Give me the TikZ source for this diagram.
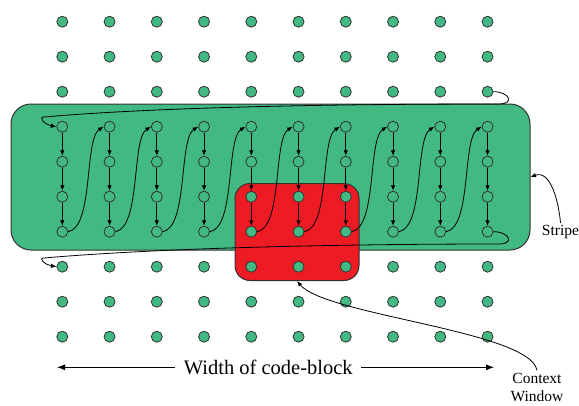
\documentclass[tikz,border=0pt]{standalone}
\usepackage{fontspec}
\setmainfont{Liberation Serif}
\usetikzlibrary{arrows.meta}

\definecolor{stripegreen}{RGB}{66,185,131}
\definecolor{windowred}{RGB}{237,28,36}
\definecolor{edgegray}{RGB}{50,50,50}

\begin{document}
\begin{tikzpicture}[
      x=1pt, y=1pt,
      cell/.style={
        circle, draw=edgegray, fill=stripegreen, line width=0.8pt,
        minimum size=11pt, inner sep=0pt
      },
      region/.style={draw=edgegray, line width=1pt, inner sep=0pt},
      sidenote/.style={font=\fontsize{15.5}{18}\selectfont, align=center, inner sep=2pt},
      wide/.style={-{Latex[length=8pt,width=6pt]}},
      line width=0.8pt, >={Latex[length=5.5pt,width=4.5pt]}
      ]

      \useasboundingbox (0,0) rectangle (579,-405);

      % stripe and the context window on top of it
      \node[region, fill=stripegreen, rounded corners=20pt,
            minimum width=519pt, minimum height=146pt] (stripe) at (270.5,-177) {};
      \node[region, fill=windowred, rounded corners=15pt,
            minimum width=124pt, minimum height=97pt] (window) at (297,-232) {};

      % token grid
      \foreach \r in {1,...,10}
        \foreach \c in {1,...,10}
          \node[cell] (p\r-\c) at ({62.3+47.25*(\c-1)}, {-21.7-35*(\r-1)}) {};

  % Scan order: down each column, then over to the next one
  \foreach \c in {1,...,10} {
    \draw[->] (p4-\c) -- (p5-\c);
    \draw[->] (p5-\c) -- (p6-\c);
    \draw[->] (p6-\c) -- (p7-\c);
  }
  \foreach \c [evaluate=\c as \n using int(\c+1)] in {1,...,9}
    \draw[->] (p7-\c.east) .. controls +(10:26pt) and +(212:23pt) .. (p4-\n.west);

  % Coming in from the row above, leaving to the row below
  \coordinate (inR) at (499,-104);
  \coordinate (inL) at (44,-117);
  \coordinate (outR) at (499,-244);
  \coordinate (outL) at (44,-258);
  \draw[->] (p3-10.east) .. controls +(0:16pt) and +(0:16pt) .. (inR)
    .. controls +(180:150pt) and +(5:120pt) .. (inL)
    .. controls +(180:6pt) and +(170:12pt) .. (p4-1.west);
  \draw[->] (p7-10.east) .. controls +(0:16pt) and +(0:16pt) .. (outR)
    .. controls +(180:150pt) and +(5:120pt) .. (outL)
    .. controls +(180:6pt) and +(170:12pt) .. (p8-1.west);

  % labels
  \node[sidenote] (stripetag) at (560.5,-232) {Stripe};
  \draw[->] (stripetag.north) to[out=95,in=20] (stripe.east);
  \node[sidenote] (ctxtag) at (537,-387) {Context\\Window};
  \draw[->] (ctxtag.north) .. controls +(100:40pt) and +(-50:45pt) .. (window.south);

  \node[font=\fontsize{20.5}{24}\selectfont, inner xsep=8pt] (wlabel) at (268.3,-367.3) {Width of code-block};
  \coordinate (wL) at (57,-367.3);
  \coordinate (wR) at (494,-367.3);
  \draw[wide] (wlabel) -- (wL);
  \draw[wide] (wlabel) -- (wR);

\end{tikzpicture}
\end{document}
